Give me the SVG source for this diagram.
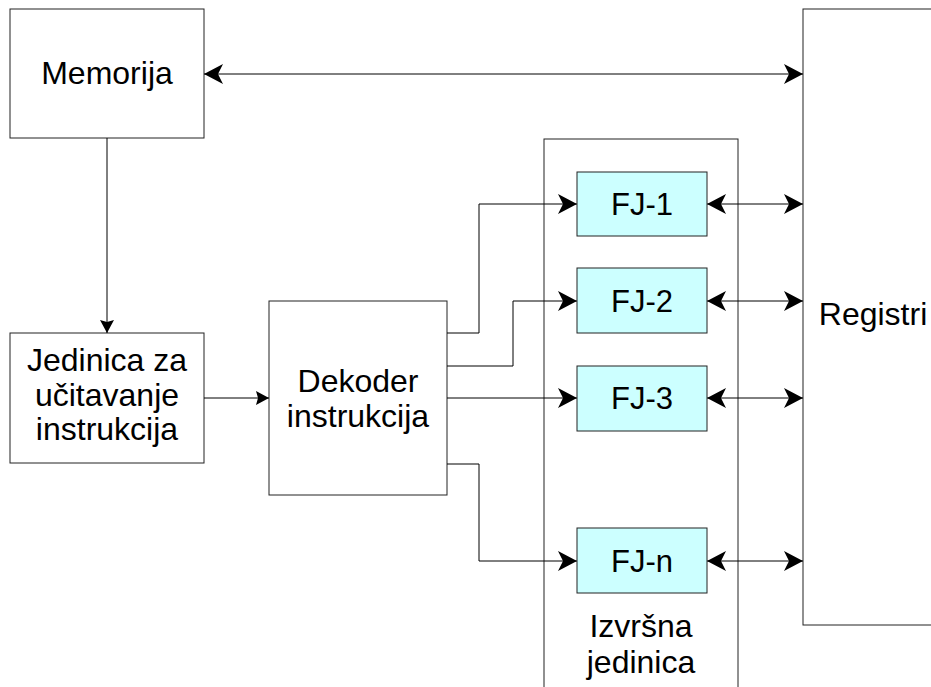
<svg xmlns="http://www.w3.org/2000/svg" width="931" height="687" viewBox="0 0 931 687">
<style>
.box{fill:#fff;stroke:#222;stroke-width:1}
.fj{fill:#ccffff;stroke:#222;stroke-width:1}
.t{font-family:"Liberation Sans",Arial,sans-serif;font-size:32px;fill:#000;text-anchor:middle}
.f{font-size:31px}
.c{fill:none;stroke:#000;stroke-width:1}
.big{marker-end:url(#big)}
.bi{marker-start:url(#big);marker-end:url(#big)}
.sm{marker-end:url(#sm)}
</style>
<defs>
<marker id="big" markerUnits="userSpaceOnUse" markerWidth="20" markerHeight="20" viewBox="0 0 20 20" refX="19" refY="10" orient="auto-start-reverse">
<path d="M0,0 L19,10 L0,20 L5,10 z" fill="#000"/>
</marker>
<marker id="sm" markerUnits="userSpaceOnUse" markerWidth="14" markerHeight="14" viewBox="0 0 14 14" refX="13" refY="7" orient="auto-start-reverse">
<path d="M0,0 L13,7 L0,14 L2,7 z" fill="#000"/>
</marker>
</defs>
<rect width="931" height="687" fill="#fff"/>
<g id="izvrsna">
<rect class="box" x="544" y="139" width="194" height="600"/>
<text class="t" x="641" y="637">Izvršna</text>
<text class="t" x="641" y="673">jedinica</text>
</g>
<g id="registri">
<rect class="box" x="803" y="9" width="200" height="616"/>
<text class="t" x="873" y="325">Registri</text>
</g>
<g id="memorija">
<rect class="box" x="10" y="9" width="194" height="129"/>
<text class="t" x="107" y="84">Memorija</text>
</g>
<g id="jedinica">
<rect class="box" x="10" y="333" width="194" height="130"/>
<text class="t" x="107" y="371">Jedinica za</text>
<text class="t" x="107" y="406">učitavanje</text>
<text class="t" x="107" y="440">instrukcija</text>
</g>
<g id="dekoder">
<rect class="box" x="269" y="301" width="178" height="194"/>
<text class="t" x="358" y="392">Dekoder</text>
<text class="t" x="358" y="427">instrukcija</text>
</g>
<g id="connectors">
<path class="c bi" d="M204,74 H803"/>
<path class="c sm" d="M107,138 V333"/>
<path class="c sm" d="M204,398 H269"/>
<path class="c big" d="M447,333 H479 V204 H577"/>
<path class="c big" d="M447,366 H513 V301 H577"/>
<path class="c big" d="M447,398 H577"/>
<path class="c big" d="M447,464 H479 V561 H577"/>
<path class="c bi" d="M707,204 H803"/>
<path class="c bi" d="M707,301 H803"/>
<path class="c bi" d="M707,398 H803"/>
<path class="c bi" d="M707,561 H803"/>
</g>
<g id="fj1">
<rect class="fj" x="577" y="172" width="130" height="64"/>
<text class="t f" x="642" y="215">FJ-1</text>
</g>
<g id="fj2">
<rect class="fj" x="577" y="268" width="130" height="65"/>
<text class="t f" x="642" y="312">FJ-2</text>
</g>
<g id="fj3">
<rect class="fj" x="577" y="366" width="130" height="65"/>
<text class="t f" x="642" y="409">FJ-3</text>
</g>
<g id="fjn">
<rect class="fj" x="577" y="528" width="130" height="65"/>
<text class="t f" x="642" y="572">FJ-n</text>
</g>
</svg>
